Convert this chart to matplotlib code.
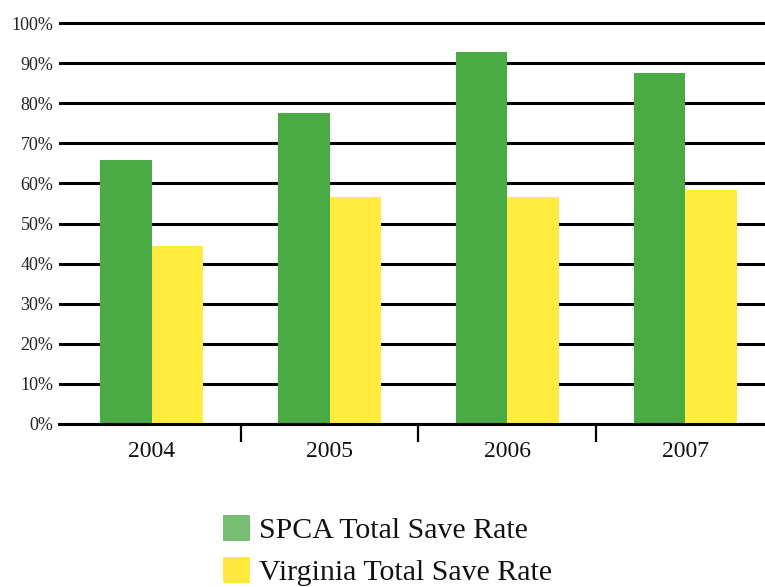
import matplotlib
matplotlib.use('Agg')
import matplotlib.pyplot as plt
from matplotlib.patches import Rectangle
from matplotlib.ticker import FixedLocator
import numpy as np

# Data
years = ['2004', '2005', '2006', '2007']
spca_rate = [65.8, 77.6, 92.8, 87.5]       # SPCA Total Save Rate (%)
virginia_rate = [44.4, 56.6, 56.6, 58.4]   # Virginia Total Save Rate (%)
y_ticks = [0, 10, 20, 30, 40, 50, 60, 70, 80, 90, 100]
legend_labels = ['SPCA Total Save Rate', 'Virginia Total Save Rate']

bar_green = '#4aaa44'
bar_yellow = '#ffec3f'
legend_green = '#77be72'
legend_yellow = '#ffe93d'

plt.rcParams['font.family'] = ['Liberation Serif', 'DejaVu Serif']

W, H = 765, 587
fig = plt.figure(figsize=(W / 100, H / 100), dpi=100)

# axes placed in pixel terms: 0% at y=424, 101% at y=19
ax = fig.add_axes([59 / W, 1 - 424 / H, (W - 59) / W, 405 / H])

x = np.arange(len(years))
width = 0.29
ax.bar(x - width / 2, spca_rate, width, color=bar_green, zorder=3)
ax.bar(x + width / 2, virginia_rate, width, color=bar_yellow, zorder=3)

ax.set_xlim(-0.523, 3.45)
ax.set_ylim(0, 101)

# horizontal rules
ax.set_yticks(y_ticks)
ax.set_yticklabels([f'{v}%' for v in y_ticks])
ax.yaxis.grid(True, color='black', linewidth=2.2)
ax.set_axisbelow(True)
ax.tick_params(axis='y', length=0, pad=4, labelsize=13, labelcolor='#222222')

# category labels + separator ticks
ax.set_xticks(x)
ax.set_xticklabels(years)
ax.xaxis.set_minor_locator(FixedLocator(x[:-1] + 0.5))
ax.tick_params(axis='x', which='major', length=0, pad=12, labelsize=17, labelcolor='#111111')
ax.tick_params(axis='x', which='minor', length=13, width=1.6, color='black', direction='out')

for side in ['left', 'right', 'top']:
    ax.spines[side].set_visible(False)
ax.spines['bottom'].set_linewidth(2.2)
ax.spines['bottom'].set_color('black')
ax.spines['bottom'].set_zorder(4)

# legend drawn by hand below the chart
legend_colors = [legend_green, legend_yellow]
row_centers = [528, 569.5]
for label, col, yc in zip(legend_labels, legend_colors, row_centers):
    fig.add_artist(Rectangle((223 / W, 1 - (yc + 13) / H), 27 / W, 26 / H,
                             transform=fig.transFigure, facecolor=col, edgecolor='none'))
    fig.text(259 / W, 1 - yc / H, label, fontsize=21.5, color='#111111',
             va='center_baseline', ha='left')

fig.savefig('out.png', dpi=100)
